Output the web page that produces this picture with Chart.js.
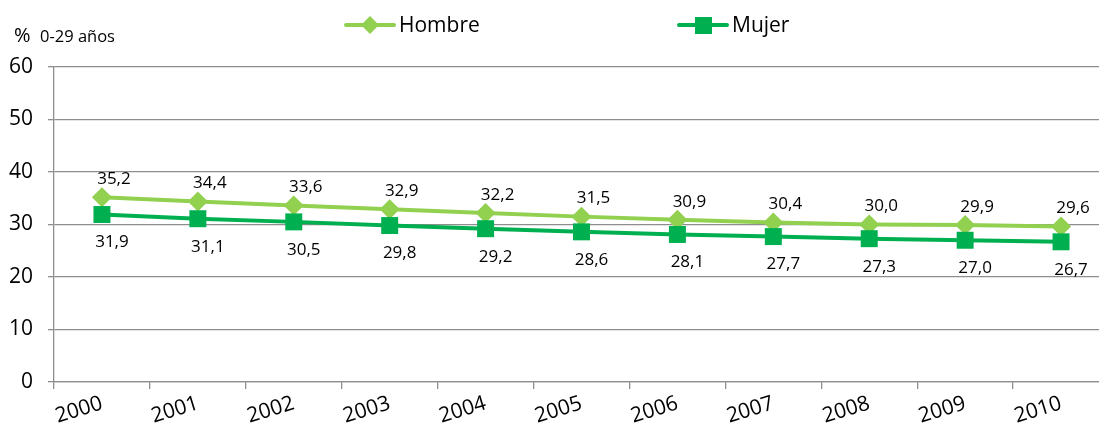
<!DOCTYPE html>
<html>
<head>
<meta charset="utf-8">
<script src="https://cdn.jsdelivr.net/npm/chart.js@4/dist/chart.umd.min.js"></script>
<style>
    html, body { margin: 0; padding: 0; background: #fff; overflow: hidden; }
    #wrap { width: 1099px; height: 425px; overflow: hidden; }
</style>
</head>
<body>
<div id="wrap"><canvas id="chart-lines" width="1109" height="425"></canvas></div>
<script>
// Data
var years = ['2000', '2001', '2002', '2003', '2004', '2005', '2006', '2007', '2008', '2009', '2010'];
var hombre = [35.2, 34.4, 33.6, 32.9, 32.2, 31.5, 30.9, 30.4, 30.0, 29.9, 29.6];
var mujer = [31.9, 31.1, 30.5, 29.8, 29.2, 28.6, 28.1, 27.7, 27.3, 27.0, 26.7];
var yTicks = [0, 10, 20, 30, 40, 50, 60];

var FONT = '"Open Sans", "DejaVu Sans", sans-serif';
var colHombre = '#92D050';
var colMujer = '#00B050';

// value labels, legend and unit text
var extras = {
    id: 'extras',
    afterDatasetsDraw: function (chart) {
        var ctx = chart.ctx;
        ctx.save();
        ctx.fillStyle = '#000';
        ctx.font = '17px ' + FONT;
        ctx.textAlign = 'center';
        ctx.textBaseline = 'middle';
        chart.data.datasets.forEach(function (ds, i) {
            var meta = chart.getDatasetMeta(i);
            meta.data.forEach(function (pt, j) {
                var txt = ds.data[j].toFixed(1).replace('.', ',');
                if (i === 0) {
                    ctx.fillText(txt, pt.x + 12, pt.y - 18);
                } else {
                    ctx.fillText(txt, pt.x + 10, pt.y + 28);
                }
            });
        });

        // legend
        function legendItem(x, label, color, style) {
            ctx.strokeStyle = color;
            ctx.lineWidth = 4;
            ctx.lineCap = 'round';
            ctx.beginPath();
            ctx.moveTo(x, 25);
            ctx.lineTo(x + 48, 25);
            ctx.stroke();
            ctx.fillStyle = color;
            ctx.beginPath();
            if (style === 'diamond') {
                ctx.moveTo(x + 24, 16);
                ctx.lineTo(x + 33, 25);
                ctx.lineTo(x + 24, 34);
                ctx.lineTo(x + 15, 25);
            } else {
                ctx.rect(x + 16, 17, 17, 17);
            }
            ctx.fill();
            ctx.fillStyle = '#000';
            ctx.font = '21px ' + FONT;
            ctx.textAlign = 'left';
            ctx.textBaseline = 'alphabetic';
            ctx.fillText(label, x + 53, 32);
        }
        legendItem(346, 'Hombre', colHombre, 'diamond');
        legendItem(679, 'Mujer', colMujer, 'square');

        // unit label
        ctx.fillStyle = '#000';
        ctx.textAlign = 'left';
        ctx.textBaseline = 'alphabetic';
        ctx.font = '20px ' + FONT;
        ctx.fillText('%', 14, 42);
        ctx.font = '16.5px ' + FONT;
        ctx.fillText('0-29 años', 40, 42);
        ctx.restore();
    }
};

new Chart(document.getElementById('chart-lines').getContext('2d'), {
    type: 'line',
    data: {
        labels: years,
        datasets: [{
            label: 'Hombre',
            data: hombre,
            borderColor: colHombre,
            backgroundColor: colHombre,
            borderWidth: 4,
            pointStyle: 'rectRot',
            pointRadius: 10,
            pointBorderWidth: 0,
            order: 1
        }, {
            label: 'Mujer',
            data: mujer,
            borderColor: colMujer,
            backgroundColor: colMujer,
            borderWidth: 4,
            pointStyle: 'rect',
            pointRadius: 12,
            pointBorderWidth: 0,
            order: 0
        }]
    },
    options: {
        responsive: false,
        animation: false,
        layout: { autoPadding: false, padding: { top: 67, left: 0, right: 0, bottom: 0 } },
        plugins: {
            legend: { display: false },
            tooltip: { enabled: false }
        },
        scales: {
            x: {
                offset: true,
                afterFit: function (s) {
                    s.height = 43;
                    // plot area runs to the canvas edge, cropped by the page
                    s.paddingLeft = 0;
                    s.paddingRight = 0;
                },
                grid: {
                    offset: true,
                    drawOnChartArea: false,
                    color: '#8e8e8e',
                    lineWidth: 1.3,
                    tickLength: 7
                },
                border: { color: '#8e8e8e', width: 1.3 },
                ticks: {
                    color: '#000',
                    font: { family: FONT, size: 21 },
                    minRotation: 17,
                    maxRotation: 17,
                    padding: 2,
                    autoSkip: false
                }
            },
            y: {
                min: 0,
                max: 60,
                afterFit: function (s) { s.width = 54; },
                afterBuildTicks: function (s) {
                    s.ticks = yTicks.map(function (v) { return { value: v }; });
                },
                grid: {
                    color: '#8e8e8e',
                    lineWidth: 1.3,
                    tickLength: 6
                },
                border: { color: '#8e8e8e', width: 1.3 },
                ticks: {
                    color: '#000',
                    font: { family: FONT, size: 21 },
                    padding: 15
                }
            }
        }
    },
    plugins: [extras]
});
</script>
</body>
</html>
